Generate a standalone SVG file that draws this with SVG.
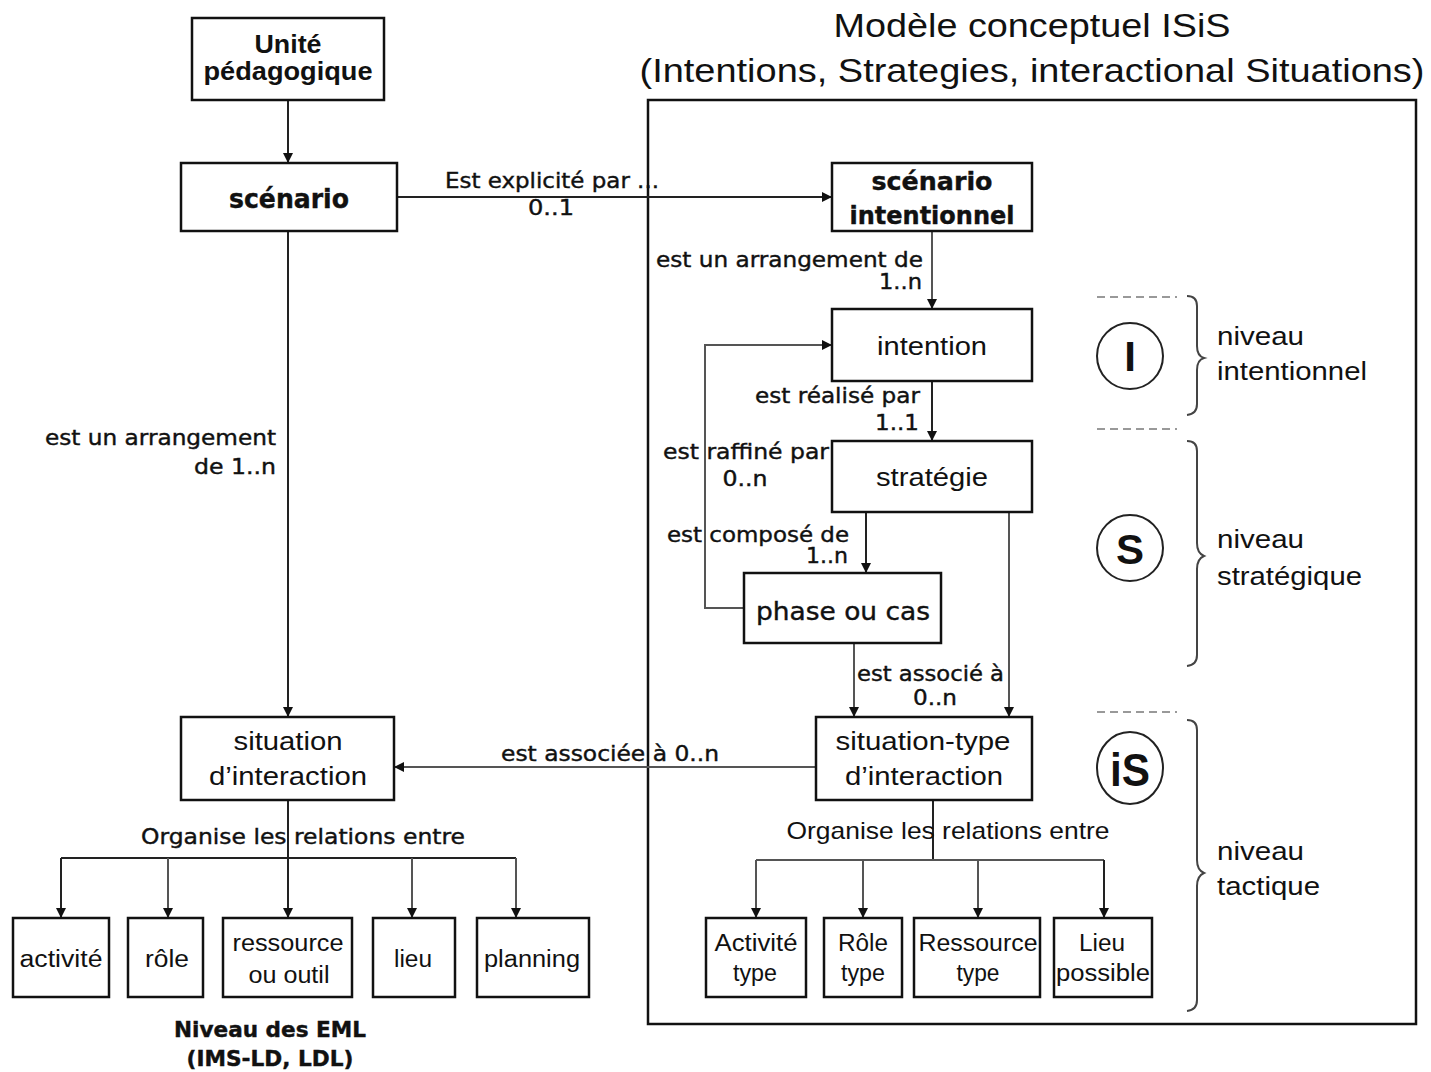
<svg xmlns="http://www.w3.org/2000/svg" width="1431" height="1072" viewBox="0 0 1431 1072">
  <style>
    .box { fill: #fff; stroke: #111; stroke-width: 2.5; }
    .frame { fill: none; stroke: #111; stroke-width: 2.5; }
    .link { fill: none; stroke: #222; stroke-width: 2; }
    .glink { fill: none; stroke: #555; stroke-width: 2; }
    .brace { fill: none; stroke: #444; stroke-width: 2; }
    .sep { stroke: #999; stroke-width: 2; stroke-dasharray: 8 5; }
    .a { font-family: "Liberation Sans", Arial, sans-serif; fill: #111; }
    .t { font-family: "DejaVu Sans", Verdana, sans-serif; fill: #111; stroke: #111; stroke-width: 0.4; }
    .b { font-weight: bold; }
    .mid { text-anchor: middle; }
    .end { text-anchor: end; }
  </style>
  <defs>
    <marker id="arrow" viewBox="0 0 10 10" refX="10" refY="5" markerWidth="10" markerHeight="10" markerUnits="userSpaceOnUse" orient="auto">
      <path d="M0,0 L10,5 L0,10 z" fill="#111"/>
    </marker>
  </defs>
  <rect width="1431" height="1072" fill="#fff"/>

  <!-- ISiS model frame and title -->
  <g id="isis-frame">
    <rect class="frame" x="648" y="100" width="768" height="924"/>
    <text class="a mid" x="1032" y="37" font-size="33" textLength="397" lengthAdjust="spacingAndGlyphs">Modèle conceptuel ISiS</text>
    <text class="a mid" x="1032" y="82" font-size="33" textLength="785" lengthAdjust="spacingAndGlyphs">(Intentions, Strategies, interactional Situations)</text>
  </g>

  <!-- Connectors -->
  <g id="connectors">
    <line class="link" x1="288" y1="100" x2="288" y2="163" marker-end="url(#arrow)"/>
    <line class="link" x1="397" y1="197" x2="832" y2="197" marker-end="url(#arrow)"/>
    <line class="link" x1="288" y1="231" x2="288" y2="717" marker-end="url(#arrow)"/>
    <line class="glink" x1="932" y1="231" x2="932" y2="309" marker-end="url(#arrow)"/>
    <line class="link" x1="932" y1="381" x2="932" y2="441" marker-end="url(#arrow)"/>
    <polyline class="glink" points="744,608 705,608 705,345 832,345" marker-end="url(#arrow)"/>
    <line class="link" x1="866" y1="512" x2="866" y2="573" marker-end="url(#arrow)"/>
    <line class="glink" x1="854" y1="643" x2="854" y2="717" marker-end="url(#arrow)"/>
    <line class="glink" x1="1009" y1="512" x2="1009" y2="717" marker-end="url(#arrow)"/>
    <line class="glink" x1="816" y1="767" x2="394" y2="767" marker-end="url(#arrow)"/>

    <!-- fan-out to EML elements -->
    <line class="link" x1="288" y1="800" x2="288" y2="858"/>
    <line class="link" x1="61" y1="858" x2="516" y2="858"/>
    <line class="link" x1="61" y1="858" x2="61" y2="918" marker-end="url(#arrow)"/>
    <line class="glink" x1="168" y1="858" x2="168" y2="918" marker-end="url(#arrow)"/>
    <line class="link" x1="288" y1="858" x2="288" y2="918" marker-end="url(#arrow)"/>
    <line class="glink" x1="412" y1="858" x2="412" y2="918" marker-end="url(#arrow)"/>
    <line class="glink" x1="516" y1="858" x2="516" y2="918" marker-end="url(#arrow)"/>

    <!-- fan-out to typed elements -->
    <line class="link" x1="933" y1="800" x2="933" y2="860"/>
    <line class="glink" x1="756" y1="860" x2="1104" y2="860"/>
    <line class="glink" x1="756" y1="860" x2="756" y2="918" marker-end="url(#arrow)"/>
    <line class="glink" x1="863" y1="860" x2="863" y2="918" marker-end="url(#arrow)"/>
    <line class="glink" x1="978" y1="860" x2="978" y2="918" marker-end="url(#arrow)"/>
    <line class="link" x1="1104" y1="860" x2="1104" y2="918" marker-end="url(#arrow)"/>
  </g>

  <!-- Connector labels -->
  <g id="labels">
    <text class="t mid" x="552" y="188" font-size="21" textLength="214" lengthAdjust="spacingAndGlyphs">Est explicité par ...</text>
    <text class="t mid" x="551" y="215" font-size="21" textLength="46" lengthAdjust="spacingAndGlyphs">0..1</text>
    <text class="t end" x="276" y="445" font-size="21" textLength="231" lengthAdjust="spacingAndGlyphs">est un arrangement</text>
    <text class="t end" x="276" y="474" font-size="21" textLength="82" lengthAdjust="spacingAndGlyphs">de 1..n</text>
    <text class="t end" x="923" y="267" font-size="21" textLength="267" lengthAdjust="spacingAndGlyphs">est un arrangement de</text>
    <text class="t end" x="922" y="289" font-size="21" textLength="43" lengthAdjust="spacingAndGlyphs">1..n</text>
    <text class="t end" x="920" y="403" font-size="21" textLength="165" lengthAdjust="spacingAndGlyphs">est réalisé par</text>
    <text class="t end" x="919" y="430" font-size="21" textLength="44" lengthAdjust="spacingAndGlyphs">1..1</text>
    <text class="t" x="663" y="459" font-size="21" textLength="166" lengthAdjust="spacingAndGlyphs">est raffiné par</text>
    <text class="t mid" x="745" y="486" font-size="21" textLength="45" lengthAdjust="spacingAndGlyphs">0..n</text>
    <text class="t end" x="849" y="542" font-size="21" textLength="182" lengthAdjust="spacingAndGlyphs">est composé de</text>
    <text class="t end" x="848" y="563" font-size="21" textLength="42" lengthAdjust="spacingAndGlyphs">1..n</text>
    <text class="t" x="857" y="681" font-size="21" textLength="147" lengthAdjust="spacingAndGlyphs">est associé à</text>
    <text class="t mid" x="935" y="705" font-size="21" textLength="44" lengthAdjust="spacingAndGlyphs">0..n</text>
    <text class="t" x="501" y="761" font-size="21" textLength="218" lengthAdjust="spacingAndGlyphs">est associée à 0..n</text>
    <text class="t mid" x="303" y="844" font-size="21" textLength="324" lengthAdjust="spacingAndGlyphs">Organise les relations entre</text>
    <text class="a mid" x="948" y="839" font-size="24" textLength="323" lengthAdjust="spacingAndGlyphs">Organise les relations entre</text>
    <text class="t b mid" x="270" y="1037" font-size="21" textLength="192" lengthAdjust="spacingAndGlyphs">Niveau des EML</text>
    <text class="t b mid" x="270" y="1066" font-size="21" textLength="167" lengthAdjust="spacingAndGlyphs">(IMS-LD, LDL)</text>
  </g>

  <!-- Left column: pedagogical unit and EML level -->
  <g id="unite-pedagogique">
    <rect class="box" x="192" y="18" width="192" height="82"/>
    <text class="a b mid" x="288" y="53" font-size="25" textLength="67" lengthAdjust="spacingAndGlyphs">Unité</text>
    <text class="a b mid" x="288" y="80" font-size="25" textLength="169" lengthAdjust="spacingAndGlyphs">pédagogique</text>
  </g>
  <g id="scenario">
    <rect class="box" x="181" y="163" width="216" height="68"/>
    <text class="t b mid" x="289" y="208" font-size="26" textLength="120" lengthAdjust="spacingAndGlyphs">scénario</text>
  </g>
  <g id="situation-interaction">
    <rect class="box" x="181" y="717" width="213" height="83"/>
    <text class="a mid" x="288" y="750" font-size="26" textLength="109" lengthAdjust="spacingAndGlyphs">situation</text>
    <text class="a mid" x="288" y="785" font-size="26" textLength="158" lengthAdjust="spacingAndGlyphs">d’interaction</text>
  </g>
  <g id="activite">
    <rect class="box" x="13" y="918" width="96" height="79"/>
    <text class="a mid" x="61" y="967" font-size="23" textLength="83" lengthAdjust="spacingAndGlyphs">activité</text>
  </g>
  <g id="role">
    <rect class="box" x="128" y="918" width="75" height="79"/>
    <text class="a mid" x="167" y="967" font-size="23" textLength="44" lengthAdjust="spacingAndGlyphs">rôle</text>
  </g>
  <g id="ressource">
    <rect class="box" x="223" y="918" width="129" height="79"/>
    <text class="a mid" x="288" y="951" font-size="23" textLength="111" lengthAdjust="spacingAndGlyphs">ressource</text>
    <text class="a mid" x="289" y="983" font-size="23" textLength="81" lengthAdjust="spacingAndGlyphs">ou outil</text>
  </g>
  <g id="lieu">
    <rect class="box" x="373" y="918" width="82" height="79"/>
    <text class="a mid" x="413" y="967" font-size="23" textLength="38" lengthAdjust="spacingAndGlyphs">lieu</text>
  </g>
  <g id="planning">
    <rect class="box" x="477" y="918" width="112" height="79"/>
    <text class="a mid" x="532" y="967" font-size="23" textLength="96" lengthAdjust="spacingAndGlyphs">planning</text>
  </g>

  <!-- ISiS model nodes -->
  <g id="scenario-intentionnel">
    <rect class="box" x="832" y="163" width="200" height="68"/>
    <text class="t b mid" x="932" y="190" font-size="25" textLength="121" lengthAdjust="spacingAndGlyphs">scénario</text>
    <text class="t b mid" x="932" y="224" font-size="25" textLength="165" lengthAdjust="spacingAndGlyphs">intentionnel</text>
  </g>
  <g id="intention">
    <rect class="box" x="832" y="309" width="200" height="72"/>
    <text class="a mid" x="932" y="355" font-size="26" textLength="110" lengthAdjust="spacingAndGlyphs">intention</text>
  </g>
  <g id="strategie">
    <rect class="box" x="832" y="441" width="200" height="71"/>
    <text class="a mid" x="932" y="486" font-size="26" textLength="112" lengthAdjust="spacingAndGlyphs">stratégie</text>
  </g>
  <g id="phase-ou-cas">
    <rect class="box" x="744" y="573" width="197" height="70"/>
    <text class="t mid" x="843" y="620" font-size="25" textLength="174" lengthAdjust="spacingAndGlyphs">phase ou cas</text>
  </g>
  <g id="situation-type">
    <rect class="box" x="816" y="717" width="216" height="83"/>
    <text class="a mid" x="923" y="750" font-size="26" textLength="175" lengthAdjust="spacingAndGlyphs">situation-type</text>
    <text class="a mid" x="924" y="785" font-size="26" textLength="158" lengthAdjust="spacingAndGlyphs">d’interaction</text>
  </g>
  <g id="activite-type">
    <rect class="box" x="706" y="918" width="100" height="79"/>
    <text class="a mid" x="756" y="951" font-size="23" textLength="83" lengthAdjust="spacingAndGlyphs">Activité</text>
    <text class="a mid" x="755" y="981" font-size="23" textLength="44" lengthAdjust="spacingAndGlyphs">type</text>
  </g>
  <g id="role-type">
    <rect class="box" x="824" y="918" width="78" height="79"/>
    <text class="a mid" x="863" y="951" font-size="23" textLength="50" lengthAdjust="spacingAndGlyphs">Rôle</text>
    <text class="a mid" x="863" y="981" font-size="23" textLength="44" lengthAdjust="spacingAndGlyphs">type</text>
  </g>
  <g id="ressource-type">
    <rect class="box" x="914" y="918" width="126" height="79"/>
    <text class="a mid" x="978" y="951" font-size="23" textLength="119" lengthAdjust="spacingAndGlyphs">Ressource</text>
    <text class="a mid" x="978" y="981" font-size="23" textLength="43" lengthAdjust="spacingAndGlyphs">type</text>
  </g>
  <g id="lieu-possible">
    <rect class="box" x="1054" y="918" width="98" height="79"/>
    <text class="a mid" x="1102" y="951" font-size="23" textLength="46" lengthAdjust="spacingAndGlyphs">Lieu</text>
    <text class="a mid" x="1103" y="981" font-size="23" textLength="94" lengthAdjust="spacingAndGlyphs">possible</text>
  </g>

  <!-- Levels: separators, badges, braces and captions -->
  <g id="levels">
    <line class="sep" x1="1097" y1="297" x2="1177" y2="297"/>
    <line class="sep" x1="1097" y1="429" x2="1177" y2="429"/>
    <line class="sep" x1="1097" y1="712" x2="1177" y2="712"/>

    <circle cx="1130" cy="356" r="33" fill="#fff" stroke="#222" stroke-width="2"/>
    <text class="a b mid" x="1130" y="371" font-size="42">I</text>
    <circle cx="1130" cy="548" r="33" fill="#fff" stroke="#222" stroke-width="2"/>
    <text class="a b mid" x="1130" y="564" font-size="42">S</text>
    <ellipse cx="1130" cy="768" rx="33" ry="36" fill="#fff" stroke="#222" stroke-width="2"/>
    <text class="a b mid" x="1130" y="786" font-size="46" textLength="40" lengthAdjust="spacingAndGlyphs">iS</text>

    <path class="brace" d="M1187,296 Q1197,296 1197,306 V346 Q1197,356 1204,358 Q1197,360 1197,370 V404 Q1197,414 1187,415"/>
    <path class="brace" d="M1187,441 Q1197,441 1197,451 V543 Q1197,553 1204,556 Q1197,559 1197,569 V655 Q1197,665 1187,666"/>
    <path class="brace" d="M1187,720 Q1197,720 1197,730 V860 Q1197,870 1204,873 Q1197,876 1197,886 V1000 Q1197,1010 1187,1011"/>

    <text class="a" x="1217" y="345" font-size="26" textLength="87" lengthAdjust="spacingAndGlyphs">niveau</text>
    <text class="a" x="1217" y="380" font-size="26" textLength="150" lengthAdjust="spacingAndGlyphs">intentionnel</text>
    <text class="a" x="1217" y="548" font-size="26" textLength="87" lengthAdjust="spacingAndGlyphs">niveau</text>
    <text class="a" x="1217" y="585" font-size="26" textLength="145" lengthAdjust="spacingAndGlyphs">stratégique</text>
    <text class="a" x="1217" y="860" font-size="26" textLength="87" lengthAdjust="spacingAndGlyphs">niveau</text>
    <text class="a" x="1217" y="895" font-size="26" textLength="103" lengthAdjust="spacingAndGlyphs">tactique</text>
  </g>
</svg>
